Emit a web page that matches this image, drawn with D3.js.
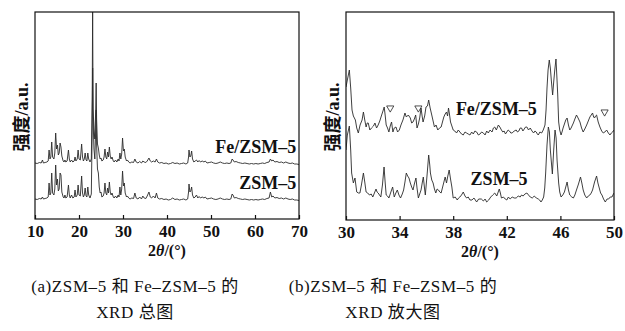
<!DOCTYPE html>
<html>
<head>
<meta charset="utf-8">
<script src="https://cdn.jsdelivr.net/npm/d3@7"></script>
<style>
  body { margin: 0; background: #fff; }
  svg { display: block; }
  text { font-family: "Liberation Serif", "Times New Roman", "Noto Sans CJK SC", serif; fill: #111; }
</style>
</head>
<body>
<svg id="chart" width="625" height="331"></svg>
<script>
// ---- data (2theta in degrees, intensity in a.u.) ----
const fullTicks = [10, 20, 30, 40, 50, 60, 70];
const zoomTicks = [30, 34, 38, 42, 46, 50];

// (a) full pattern
const fullFe = [[10.0,56],[10.5,55.5],[11.0,56.5],[11.4,56],[11.7,59],[11.9,56],[12.3,56.5],[12.7,57],[13.0,58],[13.2,69],[13.4,60],[13.6,62],[13.8,77],[14.0,62],[14.3,60],[14.5,66],[14.7,86],[14.9,70],[15.1,74],[15.3,64],[15.5,66],[15.7,76],[15.9,72],[16.1,63],[16.4,58],[16.6,57],[16.8,59],[17.0,57],[17.3,58],[17.6,69],[17.8,60],[18.0,57],[18.3,59],[18.6,57],[18.9,58],[19.1,62],[19.3,58],[19.6,60],[19.8,69],[20.0,60],[20.3,59],[20.6,75],[20.8,62],[21.0,58],[21.2,60],[21.4,66],[21.6,59],[21.8,58],[22.0,66],[22.2,60],[22.5,57],[22.8,60],[23.0,120],[23.1,210],[23.2,110],[23.4,90],[23.6,80],[23.8,110],[23.9,136],[24.0,100],[24.2,75],[24.4,71],[24.6,64],[24.8,60],[25.0,61],[25.2,58],[25.5,59],[25.7,62],[25.9,70],[26.1,62],[26.3,60],[26.5,67],[26.7,62],[26.9,72],[27.1,63],[27.3,60],[27.5,62],[27.8,58],[28.0,57],[28.3,59],[28.6,57],[28.9,60],[29.1,58],[29.3,66],[29.5,60],[29.7,65],[29.9,81],[30.1,68],[30.3,70],[30.5,62],[30.8,58],[31.0,59],[31.3,57],[31.6,56],[32.0,57],[32.4,56.5],[32.7,60],[33.0,57],[33.4,56],[33.8,57.5],[34.2,56],[34.5,58],[34.8,57],[35.2,56.5],[35.5,58],[35.9,61],[36.2,58],[36.5,57],[36.9,58],[37.3,57],[37.6,60],[37.9,57],[38.3,56],[38.8,56.5],[39.3,55.5],[39.8,56],[40.3,55],[40.8,55.5],[41.3,56.5],[41.8,55.5],[42.3,56],[42.8,55],[43.3,55.5],[43.8,56],[44.3,55],[44.7,56],[44.9,62],[45.0,69],[45.2,62],[45.4,63],[45.6,68],[45.8,60],[46.1,57],[46.4,58],[46.7,59],[47.0,57],[47.3,58.5],[47.6,57],[48.0,58],[48.4,57],[48.7,58],[49.1,56],[49.6,56.5],[50.1,57],[50.6,56],[51.1,55.5],[51.6,56],[52.1,57],[52.6,56],[53.1,55.5],[53.6,56],[54.1,55.5],[54.5,56],[54.8,60],[55.0,59],[55.3,57],[55.7,57.5],[56.2,56.5],[56.7,56],[57.2,55.5],[57.7,56],[58.2,55.5],[58.7,55],[59.2,55.5],[59.7,55],[60.2,55.5],[60.7,55],[61.2,55.5],[61.7,56],[62.2,55.5],[62.7,56.5],[63.2,57],[63.5,60],[63.8,58],[64.1,59],[64.5,57],[65.0,57.5],[65.5,56.5],[66.0,57],[66.5,56],[67.0,57],[67.5,56],[68.0,55.5],[68.5,56],[69.0,55],[69.5,55],[70.0,54.5]];

const fullZsm = [[10.0,20],[10.5,19.5],[11.0,20.5],[11.4,20],[11.7,22],[11.9,20],[12.3,20.5],[12.7,21],[13.0,22],[13.2,36],[13.4,24],[13.6,26],[13.8,46],[14.0,26],[14.3,24],[14.5,30],[14.7,54],[14.9,34],[15.1,40],[15.3,28],[15.5,30],[15.7,46],[15.9,44],[16.1,27],[16.4,22],[16.6,21],[16.8,24],[17.0,21],[17.3,22],[17.6,34],[17.8,24],[18.0,21],[18.3,24],[18.6,21],[18.9,22],[19.1,29],[19.3,22],[19.6,24],[19.8,34],[20.0,24],[20.3,23],[20.6,43],[20.8,26],[21.0,22],[21.2,24],[21.4,31],[21.6,23],[21.8,22],[22.0,32],[22.2,24],[22.5,21],[22.8,25],[23.0,90],[23.1,151],[23.2,100],[23.4,70],[23.6,60],[23.8,90],[23.9,109],[24.0,75],[24.2,50],[24.4,46],[24.6,32],[24.8,26],[25.0,27],[25.2,22],[25.5,23],[25.7,26],[25.9,36],[26.1,26],[26.3,24],[26.5,31],[26.7,26],[26.9,37],[27.1,27],[27.3,24],[27.5,26],[27.8,22],[28.0,21],[28.3,23],[28.6,21],[28.9,24],[29.1,22],[29.3,32],[29.5,24],[29.7,30],[29.9,48],[30.1,33],[30.3,36],[30.5,26],[30.8,22],[31.0,23],[31.3,21],[31.6,20],[32.0,21],[32.4,20.5],[32.7,26],[33.0,21],[33.4,20],[33.8,22],[34.2,20],[34.5,23],[34.8,21],[35.2,20.5],[35.5,23],[35.9,27],[36.2,22],[36.5,21],[36.9,23],[37.3,21],[37.6,26],[37.9,21],[38.3,20],[38.8,20.5],[39.3,19.5],[39.8,20],[40.3,19],[40.8,19.5],[41.3,21],[41.8,19.5],[42.3,20],[42.8,19],[43.3,19.5],[43.8,20],[44.3,19],[44.7,20],[44.9,27],[45.0,35],[45.2,27],[45.4,28],[45.6,32],[45.8,24],[46.1,21],[46.4,22],[46.7,24],[47.0,21],[47.3,22.5],[47.6,21],[48.0,22],[48.4,21],[48.7,22],[49.1,20],[49.6,20.5],[50.1,21],[50.6,20],[51.1,19.5],[51.6,20],[52.1,21],[52.6,20],[53.1,19.5],[53.6,20],[54.1,19.5],[54.5,20],[54.8,25],[55.0,24],[55.3,21],[55.7,21.5],[56.2,20.5],[56.7,20],[57.2,19.5],[57.7,20],[58.2,19.5],[58.7,19],[59.2,19.5],[59.7,19],[60.2,19.5],[60.7,19],[61.2,19.5],[61.7,20],[62.2,19.5],[62.7,20.5],[63.2,21],[63.5,27],[63.8,22],[64.1,23],[64.5,21],[65.0,21.5],[65.5,20.5],[66.0,21],[66.5,20],[67.0,21],[67.5,20],[68.0,19.5],[68.5,20],[69.0,19],[69.5,19],[70.0,18.5]];

// (b) 30-50 degree detail
const zoomFe = [[30.0,133],[30.1,140],[30.25,150],[30.35,132],[30.45,110],[30.55,104],[30.7,100],[30.8,92],[30.92,87],[31.05,95],[31.2,100],[31.3,108],[31.4,100],[31.5,93],[31.58,97],[31.66,97],[31.78,90],[31.9,92],[32.05,94],[32.16,97],[32.28,92],[32.4,95],[32.52,99],[32.66,105],[32.76,109],[32.85,113],[32.93,104],[33.0,95],[33.1,92],[33.2,88],[33.3,94],[33.4,98],[33.5,88],[33.6,92],[33.73,93],[33.85,88],[33.98,90],[34.1,95],[34.25,100],[34.4,107],[34.5,103],[34.65,105],[34.8,102],[34.9,97],[35.0,98],[35.1,101],[35.2,105],[35.3,92],[35.4,96],[35.5,102],[35.6,112],[35.68,104],[35.75,98],[35.87,104],[35.97,113],[36.08,114],[36.17,120],[36.28,112],[36.4,105],[36.5,99],[36.6,93],[36.72,95],[36.85,90],[36.98,92],[37.1,93],[37.2,98],[37.3,103],[37.4,106],[37.5,108],[37.58,104],[37.65,112],[37.72,106],[37.8,98],[37.9,94],[38.0,90],[38.12,89],[38.25,87],[38.38,90],[38.5,88],[38.62,86],[38.75,85],[38.88,88],[39.0,87],[39.12,86],[39.25,85],[39.38,88],[39.5,86],[39.62,89],[39.75,88],[39.88,85],[40.0,86],[40.12,88],[40.25,87],[40.38,85],[40.5,89],[40.62,87],[40.75,90],[40.9,88],[41.0,92],[41.1,93],[41.22,90],[41.37,95],[41.48,93],[41.6,90],[41.7,88],[41.8,89],[41.9,86],[42.0,88],[42.1,90],[42.2,89],[42.3,87],[42.4,87],[42.55,89],[42.7,90],[42.8,88],[42.9,89],[43.0,92],[43.1,92],[43.2,89],[43.3,91],[43.4,93],[43.5,93],[43.62,90],[43.75,92],[43.88,89],[44.0,87],[44.1,89],[44.2,88],[44.28,86],[44.35,85],[44.47,88],[44.6,87],[44.72,90],[44.85,95],[44.93,110],[45.0,132],[45.08,150],[45.17,160],[45.25,152],[45.32,140],[45.42,125],[45.5,138],[45.58,150],[45.67,161],[45.73,145],[45.8,125],[45.87,98],[45.95,90],[46.05,85],[46.12,88],[46.2,92],[46.3,96],[46.4,100],[46.5,102],[46.6,95],[46.7,90],[46.8,92],[46.9,95],[46.97,97],[47.08,101],[47.2,105],[47.32,102],[47.46,98],[47.58,92],[47.7,88],[47.82,91],[47.96,95],[48.08,99],[48.2,103],[48.3,105],[48.4,107],[48.48,103],[48.55,102],[48.62,104],[48.7,105],[48.82,98],[48.95,93],[49.08,89],[49.2,87],[49.32,88],[49.45,90],[49.58,87],[49.7,85],[49.8,87],[49.9,88],[50.0,90]];

const zoomZsm = [[30.0,70],[30.1,85],[30.25,94],[30.35,70],[30.42,47],[30.55,37],[30.67,42],[30.8,28],[30.92,27],[31.04,27],[31.15,35],[31.3,47],[31.4,38],[31.5,28],[31.62,27],[31.75,25],[31.88,26],[32.0,23],[32.12,27],[32.24,31],[32.32,28],[32.4,27],[32.5,25],[32.6,23],[32.72,35],[32.84,53],[32.92,38],[33.0,25],[33.1,24],[33.2,22],[33.35,28],[33.48,33],[33.6,23],[33.72,27],[33.83,30],[33.95,25],[34.07,22],[34.2,26],[34.3,30],[34.4,38],[34.5,47],[34.6,44],[34.7,42],[34.8,37],[34.9,33],[35.0,30],[35.1,36],[35.22,42],[35.3,32],[35.4,22],[35.5,26],[35.6,30],[35.7,38],[35.77,43],[35.85,33],[35.92,25],[36.05,45],[36.17,65],[36.25,55],[36.3,47],[36.4,40],[36.5,37],[36.6,31],[36.7,27],[36.8,31],[36.9,30],[37.0,28],[37.1,27],[37.25,35],[37.4,43],[37.5,37],[37.6,44],[37.7,50],[37.8,41],[37.9,33],[38.0,22],[38.15,23],[38.3,20],[38.4,22],[38.5,23],[38.62,25],[38.75,28],[38.88,24],[39.0,22],[39.12,23],[39.25,20],[39.4,20],[39.55,22],[39.75,18],[39.9,21],[40.1,21],[40.25,19],[40.38,21],[40.5,18],[40.65,20],[40.8,23],[40.95,25],[41.1,27],[41.25,24],[41.44,31],[41.52,27],[41.6,22],[41.75,23],[41.88,21],[42.0,20],[42.12,23],[42.25,21],[42.4,23],[42.55,22],[42.7,22],[42.85,24],[43.0,23],[43.1,25],[43.22,24],[43.35,26],[43.5,27],[43.62,25],[43.75,23],[43.9,22],[44.05,24],[44.2,22],[44.35,21],[44.45,20],[44.55,18],[44.65,20],[44.75,23],[44.83,32],[44.9,47],[45.0,75],[45.1,93],[45.18,88],[45.25,70],[45.4,46],[45.5,70],[45.6,90],[45.68,82],[45.75,60],[45.87,37],[45.95,28],[46.05,23],[46.18,25],[46.3,28],[46.4,33],[46.5,38],[46.6,30],[46.7,25],[46.85,23],[46.97,22],[47.08,25],[47.2,30],[47.35,36],[47.5,43],[47.6,37],[47.7,30],[47.82,25],[47.96,22],[48.08,24],[48.2,25],[48.3,27],[48.4,30],[48.55,38],[48.7,44],[48.8,37],[48.9,32],[49.0,27],[49.1,25],[49.22,21],[49.35,18],[49.48,21],[49.6,21],[49.72,23],[49.85,23],[49.92,25],[50.0,27]];

// open triangle markers on the Fe/ZSM-5 trace in (b)
const triangleAt = [[33.3,112],[35.4,112],[49.3,108]];

const svg = d3.select("#chart");

function drawPanel(p) {
    const x = d3.scaleLinear().domain(p.xDomain).range([p.left, p.right]);
    const y = d3.scaleLinear().domain([0, p.bottom - p.top]).range([p.bottom, p.top]);
    const g = svg.append("g");

    const clipId = "clip-" + p.id;
    g.append("clipPath").attr("id", clipId)
        .append("rect")
        .attr("x", p.left).attr("y", p.top)
        .attr("width", p.right - p.left).attr("height", p.bottom - p.top);

    const line = d3.line()
        .x(d => x(d[0]))
        .y(d => y(d[1]));

    p.series.forEach(s => {
        g.append("path")
            .datum(s)
            .attr("clip-path", `url(#${clipId})`)
            .attr("fill", "none")
            .attr("stroke", "#2a2a2a")
            .attr("stroke-width", 0.9)
            .attr("stroke-linejoin", "round")
            .attr("d", line);
    });

    if (p.markers) {
        g.selectAll(".tri")
            .data(p.markers)
            .enter()
            .append("path")
            .attr("d", d3.symbol(d3.symbolTriangle, 22))
            .attr("transform", d => `translate(${x(d[0])},${y(d[1])}) rotate(180)`)
            .attr("fill", "none")
            .attr("stroke", "#222")
            .attr("stroke-width", 0.8);
    }

    // frame
    g.append("rect")
        .attr("x", p.left).attr("y", p.top)
        .attr("width", p.right - p.left).attr("height", p.bottom - p.top)
        .attr("fill", "none")
        .attr("stroke", "#111")
        .attr("stroke-width", 1.2);

    // bottom axis, ticks pointing inward
    const ax = g.append("g")
        .attr("transform", `translate(0,${p.bottom})`)
        .call(d3.axisBottom(x).tickValues(p.ticks).tickSize(-4).tickPadding(6).tickFormat(d3.format("d")))
        .attr("font-family", "Liberation Serif")
        .attr("font-size", 17)
        .attr("font-weight", "bold");
    ax.select(".domain").remove();
    ax.selectAll(".tick line").attr("stroke", "#111").attr("stroke-width", 1.2);
    ax.selectAll(".tick text").attr("fill", "#111");

    // x title 2θ/(°)
    const xt = g.append("text")
        .attr("x", (p.left + p.right) / 2)
        .attr("y", p.bottom + 37)
        .attr("text-anchor", "middle")
        .style("font-weight", "bold")
        .style("font-size", "16px");
    xt.append("tspan").text("2");
    xt.append("tspan").style("font-style", "italic").text("θ");
    xt.append("tspan").text("/(°)");

    // y title
    const yt = g.append("text")
        .attr("transform", `translate(${p.left - 7},${p.yTitleY}) rotate(-90)`)
        .attr("text-anchor", "middle")
        .style("font-weight", "bold")
        .style("font-size", "18px");
    yt.append("tspan").style("font-family", "'Noto Sans CJK SC', sans-serif").text("强度");
    yt.append("tspan").text("/a.u.");

    // series labels
    p.labels.forEach(l => {
        g.append("text")
            .attr("x", x(l[1]))
            .attr("y", y(l[2]))
            .attr("text-anchor", l[3])
            .style("font-weight", "bold")
            .style("font-size", "18px")
            .text(l[0]);
    });

    // caption
    p.caption.forEach((c, i) => {
        g.append("text")
            .attr("x", p.captionX)
            .attr("y", 292 + i * 26)
            .attr("text-anchor", "middle")
            .style("font-family", "'Liberation Serif', 'Noto Sans CJK SC', serif")
            .style("font-size", "17px")
            .style("letter-spacing", "0.6px")
            .text(c);
    });
}

drawPanel({
    id: "a", left: 35, right: 299, top: 12, bottom: 219,
    xDomain: [10, 70], ticks: fullTicks,
    series: [fullFe, fullZsm],
    labels: [["Fe/ZSM–5", 69.4, 66, "end"], ["ZSM–5", 69.4, 30, "end"]],
    yTitleY: 117,
    caption: ["(a)ZSM–5 和 Fe–ZSM–5 的", "XRD 总图"], captionX: 135
});

drawPanel({
    id: "b", left: 346, right: 614, top: 12, bottom: 220,
    xDomain: [30, 50], ticks: zoomTicks,
    series: [zoomFe, zoomZsm],
    markers: triangleAt,
    labels: [["Fe/ZSM–5", 38.2, 105, "start"], ["ZSM–5", 39.3, 35, "start"]],
    yTitleY: 117,
    caption: ["(b)ZSM–5 和 Fe–ZSM–5 的", "XRD 放大图"], captionX: 393
});
</script>
</body>
</html>
